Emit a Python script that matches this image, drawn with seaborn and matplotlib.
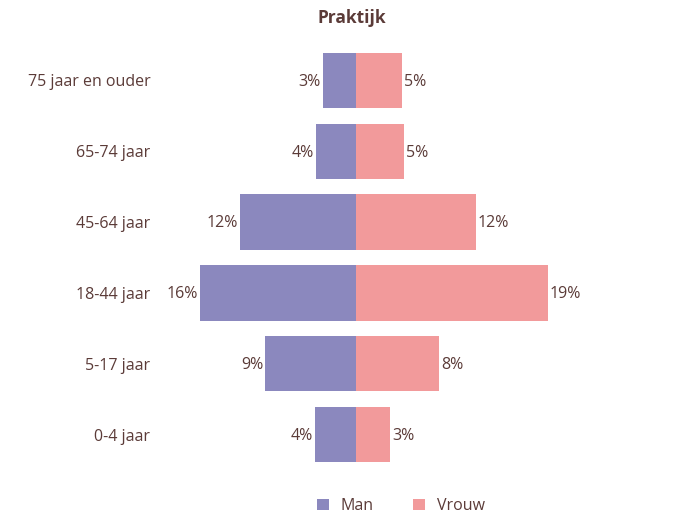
import matplotlib
matplotlib.use("Agg")
import matplotlib.pyplot as plt
import seaborn as sns
import pandas as pd

categories = ["75 jaar en ouder", "65-74 jaar", "45-64 jaar", "18-44 jaar", "5-17 jaar", "0-4 jaar"]
man = [3.3, 4.0, 11.6, 15.6, 9.1, 4.1]
vrouw = [4.6, 4.8, 12.0, 19.2, 8.3, 3.4]

text_color = "#5B3B38"
colors = {"Man": "#8B88BE", "Vrouw": "#F29A9B"}

sns.set_style("white")
plt.rcParams["font.family"] = ["Open Sans", "DejaVu Sans"]

df = pd.DataFrame({
    "leeftijd": categories * 2,
    "pct": [-v for v in man] + vrouw,
    "geslacht": ["Man"] * len(man) + ["Vrouw"] * len(vrouw),
})

fig = plt.figure(figsize=(6.92, 5.13), dpi=100)
ax = fig.add_axes([160 / 692, 1 - 470 / 513, 520 / 692, 425 / 513])

sns.barplot(data=df, x="pct", y="leeftijd", hue="geslacht", order=categories,
            palette=colors, dodge=False, orient="h", width=0.78,
            saturation=1, linewidth=0, ax=ax, legend=False)

ax.set_xlim(-19.6, 32.4)
ax.set_ylim(5.5, -0.5)

for i, (m, v) in enumerate(zip(man, vrouw)):
    ax.text(-m - 0.2, i + 0.02, f"{round(m)}%", ha="right", va="center", fontsize=11.5, color=text_color)
    ax.text(v + 0.2, i + 0.02, f"{round(v)}%", ha="left", va="center", fontsize=11.5, color=text_color)

ax.set_xticks([])
ax.set_xlabel("")
ax.set_ylabel("")
ax.tick_params(axis="y", length=0, pad=7, labelsize=11.5, labelcolor=text_color)
sns.despine(ax=ax, left=True, bottom=True)

fig.text(352 / 692, 1 - 18 / 513, "Praktijk", ha="center", va="center",
         fontsize=12.5, fontweight="bold", color=text_color)

handles = [plt.Rectangle((0, 0), 1, 1, color=colors[k], linewidth=0) for k in ["Man", "Vrouw"]]
fig.legend(handles, ["Man", "Vrouw"], loc="center", bbox_to_anchor=(401 / 692, 1 - 506 / 513),
           ncol=2, frameon=False, fontsize=11.5, labelcolor=text_color,
           handlelength=0.75, handleheight=0.75, columnspacing=2.5, handletextpad=0.7)

fig.savefig("out.png", dpi=100)
